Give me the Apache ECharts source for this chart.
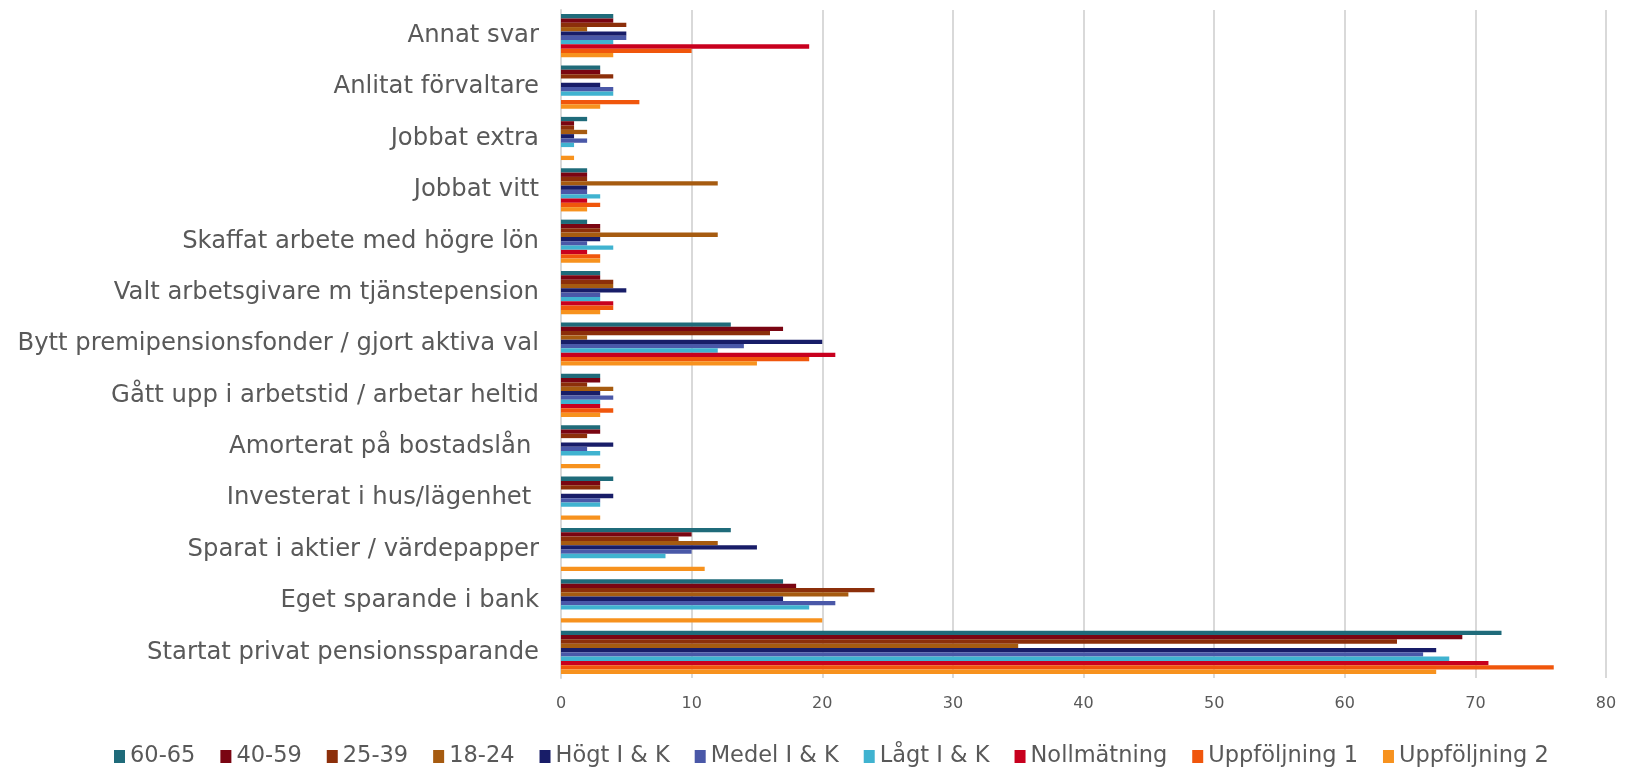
<!DOCTYPE html>
<html>
<head>
<meta charset="utf-8">
<script src="https://cdn.jsdelivr.net/npm/echarts@6/dist/echarts.min.js"></script>
<style>
  html, body { margin: 0; padding: 0; background: #fff; }
  #chart { width: 1630px; height: 768px; }
</style>
</head>
<body>
<div id="chart"></div>
<script>
// kategorier, uppifrån och ned
var categories = [
    'Annat svar',
    'Anlitat förvaltare',
    'Jobbat extra',
    'Jobbat vitt',
    'Skaffat arbete med högre lön',
    'Valt arbetsgivare m tjänstepension',
    'Bytt premipensionsfonder / gjort aktiva val',
    'Gått upp i arbetstid / arbetar heltid',
    'Amorterat på bostadslån ',
    'Investerat i hus/lägenhet ',
    'Sparat i aktier / värdepapper',
    'Eget sparande i bank',
    'Startat privat pensionssparande'
];

var seriesNames = ['60-65', '40-59', '25-39', '18-24', 'Högt I & K', 'Medel I & K', 'Lågt I & K', 'Nollmätning', 'Uppföljning 1', 'Uppföljning 2'];
var colors = ['#1f6b7a', '#7a0512', '#8c2f0a', '#a65b10', '#181d68', '#4a58a8', '#40b3d0', '#c8001e', '#f0560c', '#f7921e'];

// värden per serie, samma ordning som categories
var v6065  = [4, 3, 2, 2, 2, 3, 13, 3, 3, 4, 13, 17, 72];
var v4059  = [4, 3, 1, 2, 3, 3, 17, 3, 3, 3, 10, 18, 69];
var v2539  = [5, 4, 1, 2, 3, 4, 16, 2, 2, 3, 9, 24, 64];
var v1824  = [2, 0, 2, 12, 12, 4, 2, 4, 0, 0, 12, 22, 35];
var hogt   = [5, 3, 1, 2, 3, 5, 20, 3, 4, 4, 15, 17, 67];
var medel  = [5, 4, 2, 2, 2, 3, 14, 4, 2, 3, 10, 21, 66];
var lagt   = [4, 4, 1, 3, 4, 3, 12, 3, 3, 3, 8, 19, 68];
var noll   = [19, 0, 0, 2, 2, 4, 21, 3, 0, 0, 0, 0, 71];
var upp1   = [10, 6, 0, 3, 3, 4, 19, 4, 0, 0, 0, 0, 76];
var upp2   = [4, 3, 1, 2, 3, 3, 15, 3, 3, 3, 11, 20, 67];

var xTicks = { min: 0, max: 80, interval: 10 };

var allValues = [v6065, v4059, v2539, v1824, hogt, medel, lagt, noll, upp1, upp2];

var series = [];
for (var i = 0; i < seriesNames.length; i++) {
    series.push({
        name: seriesNames[i],
        type: 'bar',
        data: allValues[i],
        barGap: '0%',
        barCategoryGap: '16%',
        itemStyle: { color: colors[i] }
    });
}

var chart = echarts.init(document.getElementById('chart'));
chart.setOption({
    backgroundColor: '#fff',
    animation: false,
    textStyle: { fontFamily: 'DejaVu Sans' },
    grid: { left: 561, right: 24, top: 10, bottom: 90, containLabel: false },
    legend: {
        top: 740,
        left: 109,
        icon: 'rect',
        itemWidth: 11,
        itemHeight: 13,
        itemGap: 25,
        textStyle: { color: '#595959', fontSize: 22.5 },
        data: seriesNames
    },
    xAxis: {
        type: 'value',
        min: xTicks.min,
        max: xTicks.max,
        interval: xTicks.interval,
        axisLine: { show: false },
        axisTick: { show: false },
        axisLabel: { color: '#595959', fontSize: 16, margin: 18 },
        splitLine: { lineStyle: { color: '#d9d9d9', width: 2 } }
    },
    yAxis: {
        type: 'category',
        inverse: true,
        data: categories,
        axisLine: { show: true, lineStyle: { color: '#d9d9d9', width: 2 } },
        axisTick: { show: false },
        axisLabel: { color: '#595959', fontSize: 24.3, margin: 22 }
    },
    series: series
});
</script>
</body>
</html>
